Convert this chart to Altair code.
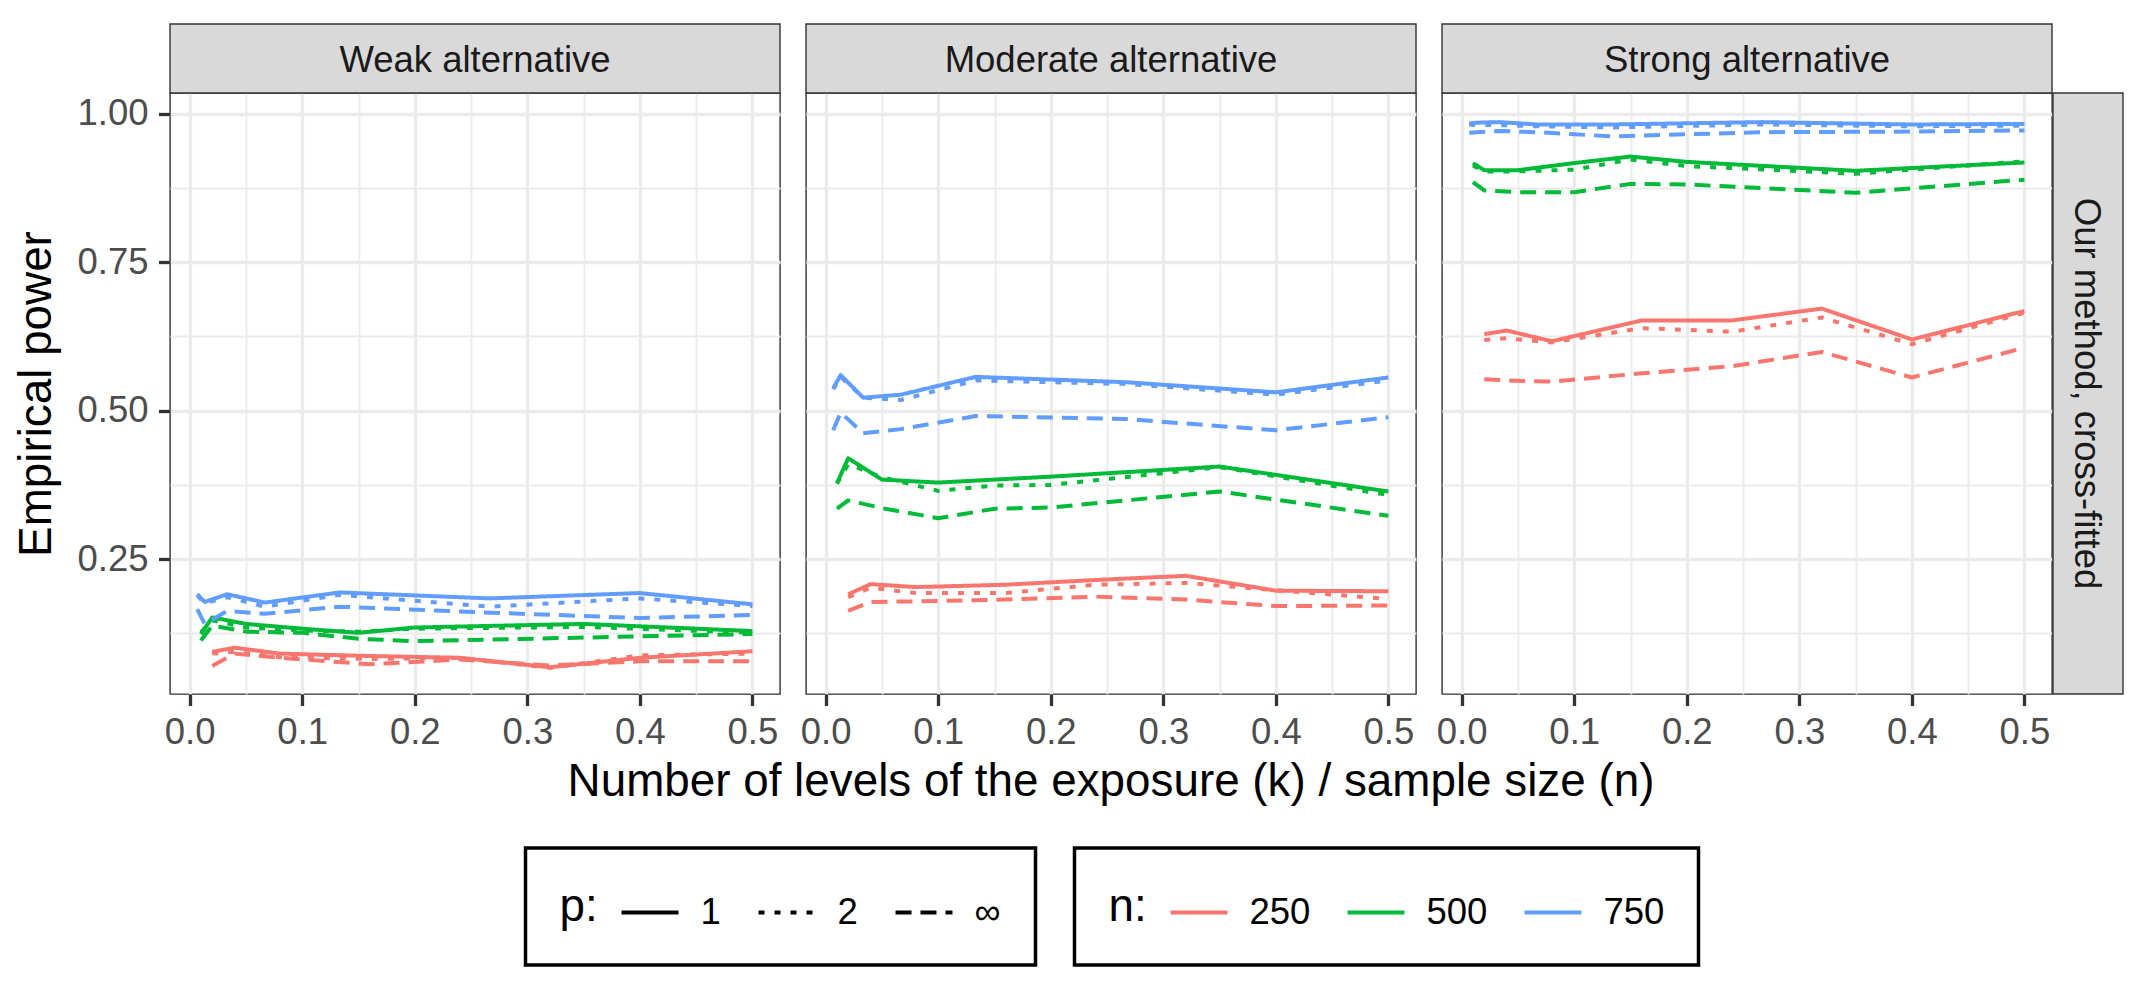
import altair as alt
import pandas as pd

PANELS = ["Weak alternative", "Moderate alternative", "Strong alternative"]
ROW_LABEL = "Our method, cross-fitted"
N_LEVELS = ["250", "500", "750"]
P_LEVELS = ["1", "2", "∞"]
X_TITLE = "Number of levels of the exposure (k) / sample size (n)"
Y_TITLE = "Empirical power"

X_TICKS = [0.0, 0.1, 0.2, 0.3, 0.4, 0.5]
X_MINOR = [0.05, 0.15, 0.25, 0.35, 0.45]
Y_TICKS = [0.25, 0.5, 0.75, 1.0]
Y_MINOR = [0.125, 0.375, 0.625, 0.875]

# k / n values for each sample size
X_N250 = [0.02, 0.04, 0.08, 0.16, 0.24, 0.32, 0.40, 0.50]
X_N500 = [0.01, 0.02, 0.05, 0.10, 0.15, 0.20, 0.35, 0.50]
X_N750 = [0.0067, 0.0133, 0.0333, 0.0667, 0.1333, 0.2667, 0.40, 0.50]

# Weak alternative
WEAK_N250_P1 = [0.094, 0.101, 0.091, 0.087, 0.084, 0.068, 0.084, 0.095]
WEAK_N250_P2 = [0.091, 0.094, 0.085, 0.082, 0.084, 0.067, 0.088, 0.091]
WEAK_N250_PI = [0.070, 0.091, 0.084, 0.073, 0.081, 0.071, 0.078, 0.078]
WEAK_N500_P1 = [0.124, 0.152, 0.141, 0.133, 0.126, 0.135, 0.141, 0.129]
WEAK_N500_P2 = [0.127, 0.147, 0.135, 0.130, 0.128, 0.133, 0.136, 0.126]
WEAK_N500_PI = [0.113, 0.138, 0.128, 0.126, 0.116, 0.112, 0.118, 0.124]
WEAK_N750_P1 = [0.191, 0.178, 0.191, 0.177, 0.194, 0.184, 0.193, 0.174]
WEAK_N750_P2 = [0.189, 0.176, 0.186, 0.170, 0.190, 0.170, 0.184, 0.171]
WEAK_N750_PI = [0.166, 0.141, 0.163, 0.158, 0.170, 0.160, 0.151, 0.156]

# Moderate alternative
MOD_N250_P1 = [0.191, 0.208, 0.203, 0.207, 0.215, 0.222, 0.197, 0.196]
MOD_N250_P2 = [0.186, 0.202, 0.193, 0.193, 0.207, 0.210, 0.198, 0.183]
MOD_N250_PI = [0.163, 0.178, 0.179, 0.182, 0.187, 0.182, 0.171, 0.172]
MOD_N500_P1 = [0.378, 0.420, 0.384, 0.379, 0.384, 0.389, 0.406, 0.364]
MOD_N500_P2 = [0.377, 0.410, 0.388, 0.365, 0.374, 0.375, 0.405, 0.358]
MOD_N500_PI = [0.335, 0.349, 0.336, 0.319, 0.335, 0.337, 0.364, 0.323]
MOD_N750_P1 = [0.538, 0.560, 0.522, 0.527, 0.557, 0.548, 0.531, 0.556]
MOD_N750_P2 = [0.536, 0.557, 0.522, 0.518, 0.551, 0.545, 0.527, 0.551]
MOD_N750_PI = [0.467, 0.497, 0.462, 0.469, 0.491, 0.486, 0.467, 0.489]

# Strong alternative
STR_N250_P1 = [0.629, 0.635, 0.617, 0.652, 0.652, 0.672, 0.620, 0.668]
STR_N250_P2 = [0.619, 0.622, 0.615, 0.639, 0.633, 0.657, 0.612, 0.665]
STR_N250_PI = [0.553, 0.551, 0.549, 0.563, 0.575, 0.599, 0.556, 0.606]
STR_N500_P1 = [0.917, 0.905, 0.905, 0.917, 0.928, 0.919, 0.904, 0.918]
STR_N500_P2 = [0.913, 0.903, 0.903, 0.906, 0.923, 0.912, 0.899, 0.920]
STR_N500_PI = [0.885, 0.871, 0.868, 0.868, 0.882, 0.881, 0.867, 0.889]
STR_N750_P1 = [0.984, 0.985, 0.986, 0.982, 0.982, 0.986, 0.982, 0.983]
STR_N750_P2 = [0.982, 0.981, 0.981, 0.979, 0.977, 0.982, 0.979, 0.980]
STR_N750_PI = [0.968, 0.969, 0.971, 0.969, 0.962, 0.969, 0.970, 0.972]

COLORS = ["#F8766D", "#00BA38", "#619CFF"]
DASHES = [[1, 0], [6, 10], [16, 9]]

X_BY_N = {"250": X_N250, "500": X_N500, "750": X_N750}
SERIES = {
    (PANELS[0], "250", "1"): WEAK_N250_P1, (PANELS[0], "250", "2"): WEAK_N250_P2, (PANELS[0], "250", "∞"): WEAK_N250_PI,
    (PANELS[0], "500", "1"): WEAK_N500_P1, (PANELS[0], "500", "2"): WEAK_N500_P2, (PANELS[0], "500", "∞"): WEAK_N500_PI,
    (PANELS[0], "750", "1"): WEAK_N750_P1, (PANELS[0], "750", "2"): WEAK_N750_P2, (PANELS[0], "750", "∞"): WEAK_N750_PI,
    (PANELS[1], "250", "1"): MOD_N250_P1, (PANELS[1], "250", "2"): MOD_N250_P2, (PANELS[1], "250", "∞"): MOD_N250_PI,
    (PANELS[1], "500", "1"): MOD_N500_P1, (PANELS[1], "500", "2"): MOD_N500_P2, (PANELS[1], "500", "∞"): MOD_N500_PI,
    (PANELS[1], "750", "1"): MOD_N750_P1, (PANELS[1], "750", "2"): MOD_N750_P2, (PANELS[1], "750", "∞"): MOD_N750_PI,
    (PANELS[2], "250", "1"): STR_N250_P1, (PANELS[2], "250", "2"): STR_N250_P2, (PANELS[2], "250", "∞"): STR_N250_PI,
    (PANELS[2], "500", "1"): STR_N500_P1, (PANELS[2], "500", "2"): STR_N500_P2, (PANELS[2], "500", "∞"): STR_N500_PI,
    (PANELS[2], "750", "1"): STR_N750_P1, (PANELS[2], "750", "2"): STR_N750_P2, (PANELS[2], "750", "∞"): STR_N750_PI,
}

rows = []
for (panel, n, p), ys in SERIES.items():
    for xv, yv in zip(X_BY_N[n], ys):
        rows.append({"panel": panel, "n": n, "p": p, "x": xv, "y": yv})
df = pd.DataFrame(rows)

FONT = "Liberation Sans"
W, H = 610, 601
XDOM = [-0.0175, 0.5245]
YDOM = [0.023, 1.035]
GRID = "#EBEBEB"
DARK = "#333333"

LEG = dict(orient="none", direction="horizontal", titleOrient="left",
           titleFontSize=45.8, titleFontWeight="normal", titleColor="black",
           titleFont=FONT, labelFont=FONT, labelFontSize=36.5, labelColor="black",
           symbolType="stroke", symbolSize=3249, symbolStrokeWidth=4,
           labelOffset=20, columnPadding=29, padding=34, strokeColor="black",
           titlePadding=21, titleAnchor="middle", titleBaseline="middle")
P_LEGEND = alt.Legend(title="p:", legendX=355.5, legendY=755, symbolStrokeColor="black", **LEG)
N_LEGEND = alt.Legend(title="n:", legendX=904.5, legendY=755, **LEG)


def panel(i, name):
    d = df[df.panel == name]
    xs = alt.Scale(domain=XDOM, nice=False, zero=False)
    ys = alt.Scale(domain=YDOM, nice=False, zero=False)

    minor = alt.Chart(d).mark_line(opacity=0).encode(
        x=alt.X("x:Q", scale=xs, axis=alt.Axis(values=X_MINOR, labels=False, ticks=False, domain=False,
                                                grid=True, gridColor=GRID, gridWidth=1.8, title=None,
                                                orient="bottom")),
        y=alt.Y("y:Q", scale=ys, axis=alt.Axis(values=Y_MINOR, labels=False, ticks=False, domain=False,
                                                grid=True, gridColor=GRID, gridWidth=1.8, title=None,
                                                orient="left")),
    )

    if i == 0:
        yaxis = alt.Axis(values=Y_TICKS, format=".2f", domain=False, grid=True, gridColor=GRID,
                         gridWidth=3.3, orient="left", labels=True, ticks=True, tickColor=DARK,
                         tickWidth=3.3, tickSize=11.5, labelFontSize=36.5, labelColor="#4D4D4D",
                         labelFont=FONT, labelPadding=10.5, title=Y_TITLE, titleFontSize=45.8,
                         titleFont=FONT, titleFontWeight="normal", titleColor="black",
                         titlePadding=16)
    else:
        yaxis = alt.Axis(values=Y_TICKS, domain=False, grid=True, gridColor=GRID, gridWidth=3.3,
                         orient="left", labels=False, ticks=False, title=None)
    xaxis = alt.Axis(values=X_TICKS, format=".1f", domain=False, grid=True, gridColor=GRID,
                     gridWidth=3.3, orient="bottom", ticks=True, tickColor=DARK, tickWidth=3.3,
                     tickSize=11.5, labelFontSize=36.5, labelColor="#4D4D4D", labelFont=FONT,
                     labelPadding=9, labelFlush=False, labelOverlap=False, title=None)

    lines = alt.Chart(d).mark_line(strokeWidth=4, strokeCap="butt", strokeJoin="round").encode(
        x=alt.X("x:Q", scale=xs, axis=xaxis),
        y=alt.Y("y:Q", scale=ys, axis=yaxis),
        color=alt.Color("n:N", scale=alt.Scale(domain=N_LEVELS, range=COLORS), legend=N_LEGEND),
        strokeDash=alt.StrokeDash("p:N", scale=alt.Scale(domain=P_LEVELS, range=DASHES), legend=P_LEGEND),
        order=alt.Order("x:Q"),
    )

    lab = pd.DataFrame({"label": [name]})
    strip_rect = alt.Chart(lab).mark_rect(fill="#D9D9D9", stroke=DARK, strokeWidth=1.4).encode(
        x=alt.value(0), x2=alt.value(W), y=alt.value(-69), y2=alt.value(0))
    strip_text = alt.Chart(lab).mark_text(font=FONT, fontSize=36.5, color="#1A1A1A",
                                          baseline="alphabetic", align="center").encode(
        x=alt.value(W / 2), y=alt.value(-21.5), text="label:N")
    layers = [minor, lines, strip_rect, strip_text]

    if i == 1:
        tdf = pd.DataFrame({"label": [X_TITLE]})
        layers.append(alt.Chart(tdf).mark_text(font=FONT, fontSize=45.8, color="black",
                                               baseline="alphabetic", align="center").encode(
            x=alt.value(W / 2), y=alt.value(703), text="label:N"))
    if i == 2:
        rdf = pd.DataFrame({"label": [ROW_LABEL]})
        layers.append(alt.Chart(rdf).mark_rect(fill="#D9D9D9", stroke=DARK, strokeWidth=1.4).encode(
            x=alt.value(W + 1), x2=alt.value(W + 71), y=alt.value(0), y2=alt.value(H)))
        layers.append(alt.Chart(rdf).mark_text(font=FONT, fontSize=36.5, color="#1A1A1A", angle=90,
                                               baseline="alphabetic", align="center").encode(
            x=alt.value(W + 23), y=alt.value(H / 2), text="label:N"))

    return alt.layer(*layers).resolve_axis(x="independent", y="independent").properties(width=W, height=H)


chart = alt.hconcat(*[panel(i, name) for i, name in enumerate(PANELS)], spacing=26, bounds="flush").properties(
    padding={"left": 5, "top": 14, "right": 5, "bottom": 5}
).configure(font=FONT).configure_view(stroke=DARK, strokeWidth=1.4).configure_legend(strokeWidth=3.5)

chart.save("out.html", embed_options={"renderer": "svg", "actions": False})
